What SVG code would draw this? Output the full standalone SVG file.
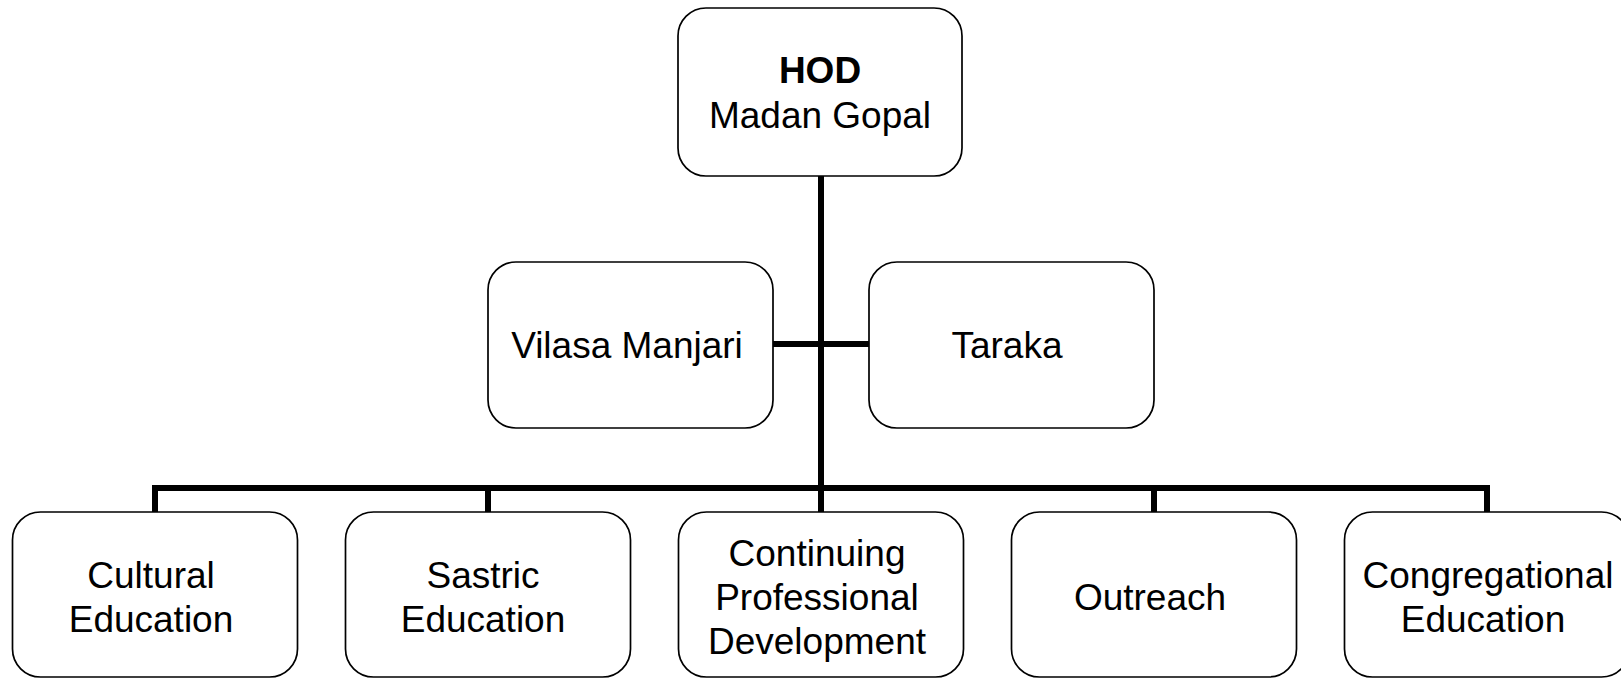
<svg xmlns="http://www.w3.org/2000/svg" width="1621" height="678" viewBox="0 0 1621 678">
<style>
.box{fill:#fff;stroke:#000;stroke-width:1.7}
.t{font-family:"Liberation Sans",Arial,sans-serif;font-size:37px;fill:#000;text-anchor:middle}
.b{font-weight:bold}
.c{stroke:#000;stroke-width:6;fill:none;stroke-linecap:butt}
</style>
<rect width="1621" height="678" fill="#fff"/>
<g id="connectors">
<path class="c" d="M821 176V488"/>
<path class="c" d="M773 344H869"/>
<path class="c" d="M155 512V488H1487V512"/>
<path class="c" d="M488 488V512M1154 488V512M821 488V512"/>
</g>
<g id="hod">
<rect class="box" x="678" y="8" width="284" height="168" rx="28"/>
<text class="t b" x="820" y="83">HOD</text>
<text class="t" x="820" y="128">Madan Gopal</text>
</g>
<g id="vilasa">
<rect class="box" x="488" y="262" width="285" height="166" rx="28"/>
<text class="t" x="627" y="358">Vilasa Manjari</text>
</g>
<g id="taraka">
<rect class="box" x="869" y="262" width="285" height="166" rx="28"/>
<text class="t" x="1007" y="358">Taraka</text>
</g>
<g id="cultural">
<rect class="box" x="12.5" y="512" width="285" height="165" rx="28"/>
<text class="t" x="151" y="588">Cultural</text>
<text class="t" x="151" y="632">Education</text>
</g>
<g id="sastric">
<rect class="box" x="345.5" y="512" width="285" height="165" rx="28"/>
<text class="t" x="483" y="588">Sastric</text>
<text class="t" x="483" y="632">Education</text>
</g>
<g id="continuing">
<rect class="box" x="678.5" y="512" width="285" height="165" rx="28"/>
<text class="t" x="817" y="566">Continuing</text>
<text class="t" x="817" y="610">Professional</text>
<text class="t" x="817" y="654">Development</text>
</g>
<g id="outreach">
<rect class="box" x="1011.5" y="512" width="285" height="165" rx="28"/>
<text class="t" x="1150" y="610">Outreach</text>
</g>
<g id="congregational">
<rect class="box" x="1344.5" y="512" width="285" height="165" rx="28"/>
<text class="t" x="1488" y="588">Congregational</text>
<text class="t" x="1483" y="632">Education</text>
</g>
</svg>
